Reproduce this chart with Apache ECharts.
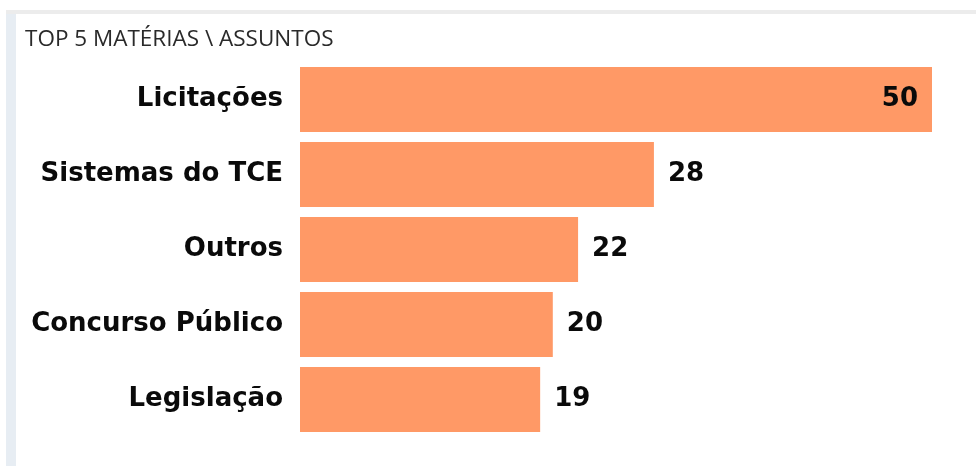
<!DOCTYPE html>
<html>
<head>
<meta charset="utf-8">
<script src="https://cdn.jsdelivr.net/npm/echarts@6/dist/echarts.min.js"></script>
<style>
  html, body { margin: 0; padding: 0; background: #fff; }
  #chart { width: 978px; height: 466px; }
</style>
</head>
<body>
<div id="chart"></div>
<script>
const categories = ['Licitações', 'Sistemas do TCE', 'Outros', 'Concurso Público', 'Legislação']
const values = [50, 28, 22, 20, 19]
const titleText = 'TOP 5 MATÉRIAS \\ ASSUNTOS'

const barColor = '#FF9966'
const labelFont = { fontFamily: 'DejaVu Sans', fontWeight: 'bold', fontSize: 26, color: '#0a0a0a' }

const chart = echarts.init(document.getElementById('chart'))

const option = {
  animation: false,
  backgroundColor: '#fff',
  title: {
    text: titleText,
    left: 25,
    top: 28,
    padding: 0,
    textStyle: { fontFamily: 'Open Sans', fontWeight: 'normal', fontSize: 22.5, color: '#2a2a2a' }
  },
  graphic: [
    { type: 'rect', shape: { x: 6, y: 10, width: 10, height: 456 }, style: { fill: '#E7EDF3' }, silent: true },
    { type: 'rect', shape: { x: 6, y: 10, width: 970, height: 4 }, style: { fill: '#ECECEC' }, silent: true }
  ],
  grid: { left: 300, right: 46, top: 62, bottom: 29 },
  xAxis: {
    type: 'value',
    min: 0,
    max: 50,
    show: false
  },
  yAxis: {
    type: 'category',
    inverse: true,
    data: categories,
    axisLine: { show: false },
    axisTick: { show: false },
    axisLabel: { margin: 17, ...labelFont }
  },
  series: [
    {
      type: 'bar',
      barWidth: 65,
      data: values.map((v, i) => ({
        value: v,
        label: { position: i === 0 ? 'insideRight' : 'right', distance: 14 }
      })),
      itemStyle: { color: barColor },
      label: { show: true, ...labelFont }
    }
  ]
}

chart.setOption(option)
</script>
</body>
</html>
